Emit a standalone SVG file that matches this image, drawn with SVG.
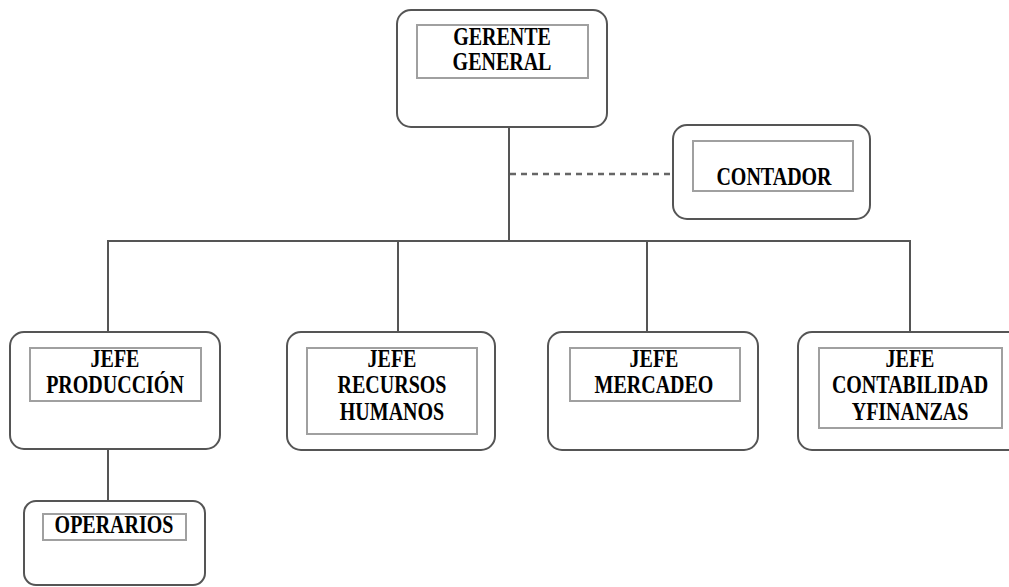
<svg xmlns="http://www.w3.org/2000/svg" width="1009" height="587" viewBox="0 0 1009 587">
<style>
.outer{fill:#fff;stroke:#555;stroke-width:2}
.inner{fill:none;stroke:#a0a0a0;stroke-width:2}
text{font-family:'Times New Roman','Liberation Serif','DejaVu Serif',serif;font-weight:700;font-size:20px;fill:#000;text-anchor:middle}
.c{stroke:#555;stroke-width:2;fill:none}
.d{stroke:#666;stroke-width:2.5;fill:none;stroke-dasharray:6,5}
</style>
<rect width="1009" height="587" fill="#fff"/>
<g id="connectors">
<line class="c" x1="509" y1="127" x2="509" y2="241"/>
<line class="d" x1="510" y1="174" x2="673" y2="174"/>
<line class="c" x1="107" y1="241" x2="911" y2="241"/>
<line class="c" x1="108" y1="241" x2="108" y2="332"/>
<line class="c" x1="398" y1="241" x2="398" y2="332"/>
<line class="c" x1="647" y1="241" x2="647" y2="332"/>
<line class="c" x1="910" y1="241" x2="910" y2="332"/>
<line class="c" x1="108" y1="449" x2="108" y2="501"/>
</g>
<g id="gerente">
<rect class="outer" x="397" y="10" width="210" height="117" rx="14"/>
<rect class="inner" x="417" y="25" width="171" height="53"/>
<text transform="translate(502,45) scale(1,1.25)">GERENTE</text>
<text transform="translate(502,70) scale(1,1.25)">GENERAL</text>
</g>
<g id="contador">
<rect class="outer" x="673" y="125" width="197" height="94" rx="14"/>
<rect class="inner" x="693" y="141" width="160" height="50"/>
<text transform="translate(774,185) scale(1,1.25)">CONTADOR</text>
</g>
<g id="produccion">
<rect class="outer" x="10" y="332" width="210" height="117" rx="14"/>
<rect class="inner" x="30" y="348" width="171" height="53"/>
<text transform="translate(115,367) scale(1,1.25)">JEFE</text>
<text transform="translate(115,393) scale(1,1.25)">PRODUCCIÓN</text>
</g>
<g id="rrhh">
<rect class="outer" x="287" y="332" width="208" height="118" rx="14"/>
<rect class="inner" x="307" y="348" width="170" height="86"/>
<text transform="translate(392,367) scale(1,1.25)">JEFE</text>
<text transform="translate(392,393) scale(1,1.25)">RECURSOS</text>
<text transform="translate(392,420) scale(1,1.25)">HUMANOS</text>
</g>
<g id="mercadeo">
<rect class="outer" x="548" y="332" width="210" height="118" rx="14"/>
<rect class="inner" x="570" y="348" width="170" height="53"/>
<text transform="translate(654,367) scale(1,1.25)">JEFE</text>
<text transform="translate(654,393) scale(1,1.25)">MERCADEO</text>
</g>
<g id="contabilidad">
<rect class="outer" x="798" y="332" width="225" height="118" rx="14"/>
<rect class="inner" x="819" y="348" width="183" height="80"/>
<text transform="translate(910,367) scale(1,1.25)">JEFE</text>
<text transform="translate(910,393) scale(1,1.25)">CONTABILIDAD</text>
<text transform="translate(910,420) scale(1,1.25)">YFINANZAS</text>
</g>
<g id="operarios">
<rect class="outer" x="24" y="501" width="181" height="84" rx="12"/>
<rect class="inner" x="43" y="514" width="143" height="26"/>
<text transform="translate(114,533) scale(1,1.25)">OPERARIOS</text>
</g>
</svg>
